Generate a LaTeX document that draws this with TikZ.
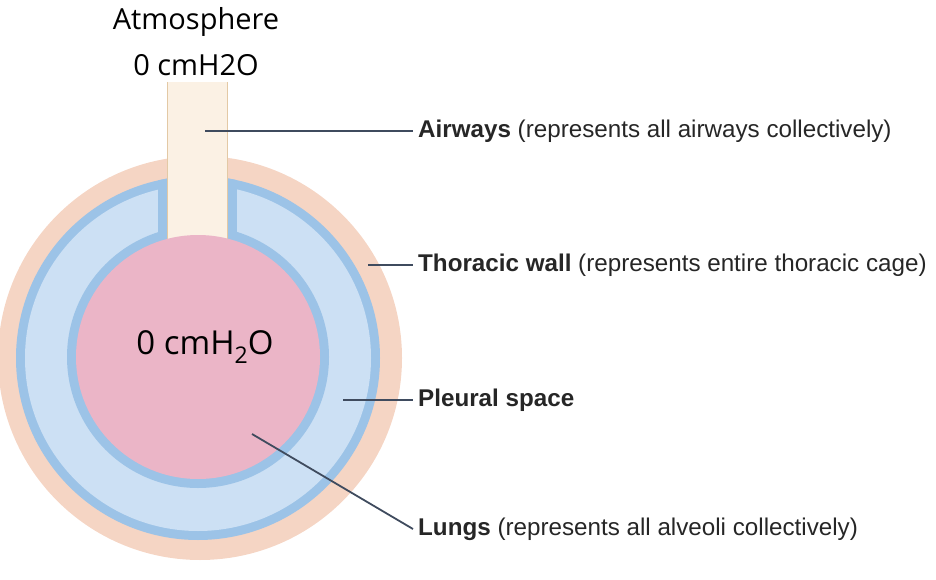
\documentclass[tikz,border=0pt]{standalone}
\usepackage{fontspec}
\setmainfont{Liberation Sans}
\newfontfamily\opensans{Open Sans}
\definecolor{wallpeach}{HTML}{F5D5C4}
\definecolor{pleurablue}{HTML}{9CC3E7}
\definecolor{spaceblue}{HTML}{CCE0F4}
\definecolor{lungpink}{HTML}{EBB5C7}
\definecolor{tubecream}{HTML}{FBF1E4}
\definecolor{tubeedge}{HTML}{E3C9A5}
\definecolor{leadgray}{HTML}{3F4B5E}

\begin{document}
\begin{tikzpicture}[x=1pt,y=-1pt,
  lbl/.style={anchor=west,inner sep=0pt,text=black!85,font=\fontsize{24.2}{27}\selectfont},
  lead/.style={draw=leadgray,line width=1.8pt},
  big/.style={font=\opensans\fontsize{29}{33}\selectfont}]
  \useasboundingbox (0,0) rectangle (936,580);

  % Thoracic wall
  \fill[wallpeach] (200,358) circle (202);
  % Pleural space
  \fill[pleurablue] (198,358) circle (182);
  \fill[spaceblue] (198,358) circle (173);
  \begin{scope}
    \clip (198,358) circle (182);
    \fill[pleurablue] (158,150) rectangle (237,250);
  \end{scope}
  \fill[pleurablue] (198,357) circle (131);

  % Airways
  \fill[tubecream] (167,82) rectangle (228,250);
  \draw[tubeedge, line width=1.5pt] (167.7,82) -- (167.7,240) (227.3,82) -- (227.3,240);

  % Lungs
  \fill[lungpink] (198,357) circle (122);
  \node[big, font=\opensans\fontsize{33}{36}\selectfont] (lungp) at (205,347)
    {0 cmH\raisebox{-0.3em}{\fontsize{23}{23}\selectfont 2}O};

  % Atmosphere
  \node[big] (atm) at (196,22) {Atmosphere};
  \node[big] (atmp) at (196,65) {0 cmH2O};

  % Labels
  \node[lbl] (air) at (418,131) {\textbf{Airways} (represents all airways collectively)};
  \node[lbl] (wall) at (418,265) {\textbf{Thoracic wall} (represents entire thoracic cage)};
  \node[lbl] (pleura) at (418,400) {\textbf{Pleural space}};
  \node[lbl] (lung) at (418,529) {\textbf{Lungs} (represents all alveoli collectively)};

  \coordinate (airpt) at (205,131);
  \coordinate (wallpt) at (368,265);
  \coordinate (pleurapt) at (343,400);
  \coordinate (lungpt) at (252,434);

  \draw[lead] (airpt) -- ([xshift=-5pt]air.west);
  \draw[lead] (wallpt) -- ([xshift=-5pt]wall.west);
  \draw[lead] (pleurapt) -- ([xshift=-5pt]pleura.west);
  \draw[lead] (lungpt) -- ([xshift=-5pt]lung.west);
\end{tikzpicture}
\end{document}
